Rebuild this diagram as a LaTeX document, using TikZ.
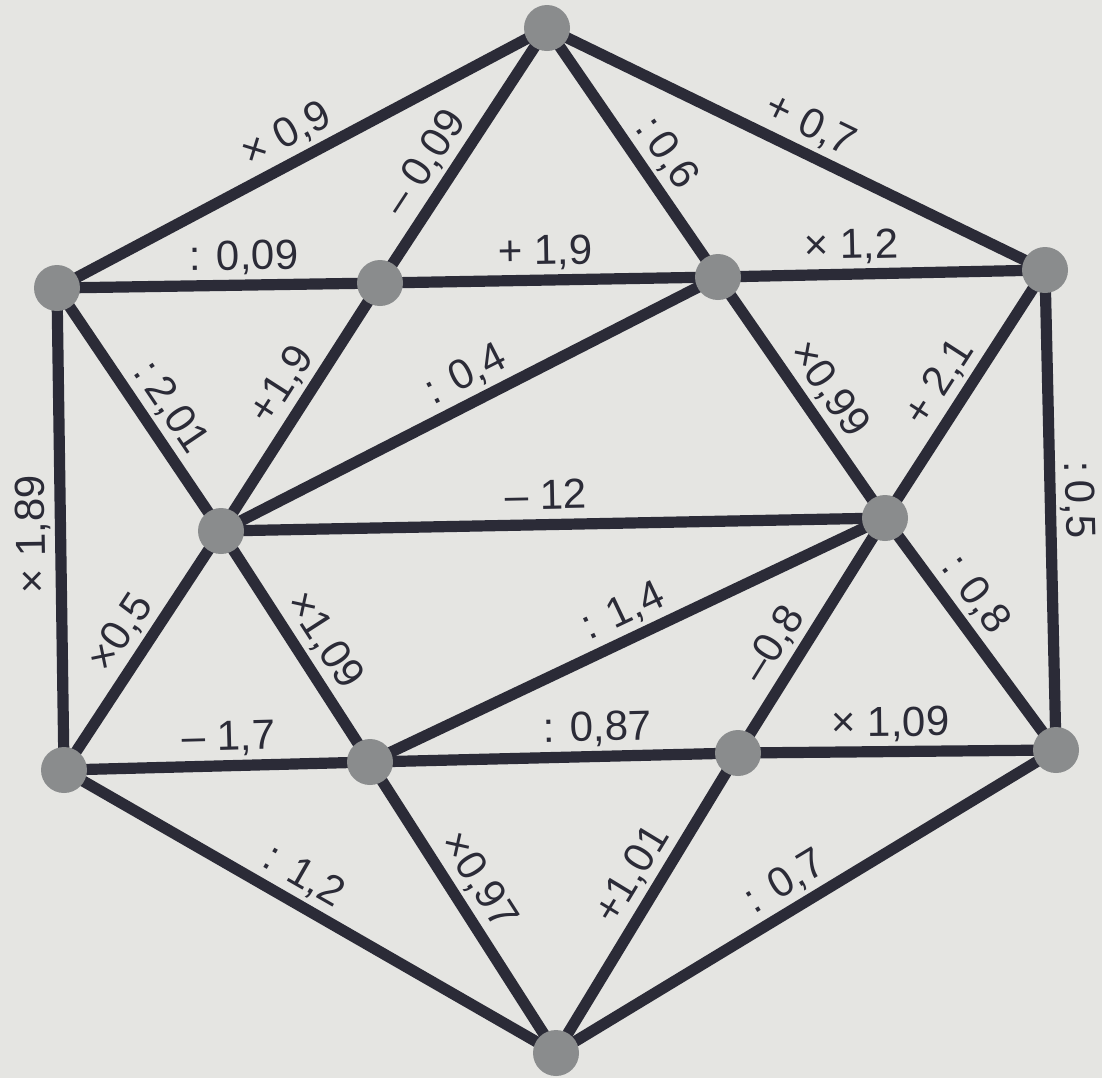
\documentclass[tikz,border=0pt]{standalone}
\usepackage{fontspec}
\setmainfont{Liberation Sans}
\usetikzlibrary{backgrounds}
\definecolor{paper}{HTML}{E5E5E2}
\definecolor{ink}{HTML}{2B2B37}
\definecolor{dotc}{HTML}{8A8C8D}
\begin{document}
\begin{tikzpicture}[x=0.5pt,y=-0.5pt,
  dot/.style={circle,fill=dotc,minimum size=23pt,inner sep=0pt},
  edge/.style={draw=ink,line width=5.6pt},
  lab/.style={sloped,anchor=south,inner sep=7.5pt,text depth=0pt,text=ink,font=\fontsize{21}{25}\selectfont}]
\useasboundingbox (0,0) rectangle (1102,1078);
% nodes
\node[dot] (T) at (547,28) {};
\node[dot] (A) at (57,288) {};
\node[dot] (B) at (380,283) {};
\node[dot] (C) at (718,277) {};
\node[dot] (D) at (1045,270) {};
\node[dot] (E) at (221,531) {};
\node[dot] (F) at (885,518) {};
\node[dot] (G) at (64,770) {};
\node[dot] (H) at (370,762) {};
\node[dot] (I) at (738,753) {};
\node[dot] (J) at (1056,750) {};
\node[dot] (K) at (556,1053) {};
% edges
\begin{scope}[on background layer]
\fill[paper] (0,0) rectangle (1102,1078);
\foreach \a/\b in {T/A,T/B,T/C,T/D,A/B,B/C,C/D,A/E,B/E,C/E,C/F,D/F,A/G,D/J,E/F,F/J,E/G,E/H,F/H,F/I,G/H,H/I,I/J,G/K,H/K,I/K,J/K}
  \draw[edge] (\a.center) -- (\b.center);
\end{scope}
% labels
\path (A.center) -- node[lab,pos=.495] {× 0,9} (T.center);
\path (B.center) -- node[lab,pos=.41] {– 0,09} (T.center);
\path (T.center) -- node[lab,pos=.566] {:\,0,6} (C.center);
\path (T.center) -- node[lab,pos=.505] {+ 0,7} (D.center);
\path (A.center) -- node[lab,pos=.58] {: 0,09} (B.center);
\path (B.center) -- node[lab,pos=.49] {+ 1,9} (C.center);
\path (C.center) -- node[lab,pos=.41] {× 1,2} (D.center);
\path (A.center) -- node[lab,pos=.556] {:\,2,01} (E.center);
\path (E.center) -- node[lab,pos=.53] {+1,9} (B.center);
\path (E.center) -- node[lab,pos=.518] {: 0,4} (C.center);
\path (C.center) -- node[lab,pos=.53] {×0,99} (F.center);
\path (F.center) -- node[lab,pos=.486] {+ 2,1} (D.center);
\path (D.center) -- node[lab,pos=.48] {:\,0,5} (J.center);
\path (G.center) -- node[lab,pos=.49,allow upside down] {× 1,89} (A.center);
\path (E.center) -- node[lab,pos=.49] {– 12} (F.center);
\path (F.center) -- node[lab,pos=.40] {: 0,8} (J.center);
\path (G.center) -- node[lab,pos=.51] {×0,5} (E.center);
\path (E.center) -- node[lab,pos=.538] {×1,09} (H.center);
\path (G.center) -- node[lab,pos=.54] {– 1,7} (H.center);
\path (H.center) -- node[lab,pos=.515] {: 1,4} (F.center);
\path (I.center) -- node[lab,pos=.40] {–0,8} (F.center);
\path (H.center) -- node[lab,pos=.62] {: 0,87} (I.center);
\path (I.center) -- node[lab,pos=.48] {× 1,09} (J.center);
\path (G.center) -- node[lab,pos=.46] {: 1,2} (K.center);
\path (H.center) -- node[lab,pos=.46] {×0,97} (K.center);
\path (K.center) -- node[lab,pos=.548] {+1,01} (I.center);
\path (K.center) -- node[lab,pos=.487] {: 0,7} (J.center);
\end{tikzpicture}
\end{document}
